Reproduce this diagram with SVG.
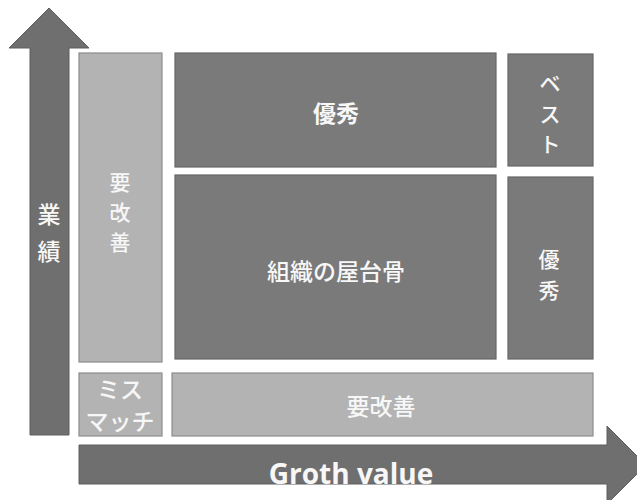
<svg xmlns="http://www.w3.org/2000/svg" width="637" height="500" viewBox="0 0 637 500">
<style>
.dark{fill:#7a7a7a;stroke:#666;stroke-width:1.2}
.light{fill:#b3b3b3;stroke:#8c8c8c;stroke-width:1.2}
.arrow{fill:#6f6f6f;stroke:#5e5e5e;stroke-width:1}
.t{font-family:"Noto Sans CJK JP","Noto Sans",sans-serif;fill:#f7f7f7;text-anchor:middle;dominant-baseline:central;font-size:23px;font-weight:500}
.v{font-size:21px}
.b{font-weight:bold}
</style>
<rect width="637" height="500" fill="#fff"/>
<g id="connectors">
<polygon class="arrow" points="49,8 89,48 69,48 69,435 30,435 30,48 9,48"/>
<polygon class="arrow" points="79,445 607,445 607,426 646,465 607,504 607,484 79,484"/>
</g>
<g id="axis-y"><text class="t" x="49" y="213" font-size="25">業</text><text class="t" x="49" y="250" font-size="25">績</text></g>
<g id="axis-x"><text x="351" y="484" style="font-family:'Open Sans',sans-serif;font-weight:bold;font-size:28px;fill:#f7f7f7;text-anchor:middle">Groth value</text></g>
<g id="left-improve"><rect class="light" x="79" y="53" width="83" height="309"/>
<text class="t v" x="120" y="181">要</text><text class="t v" x="120" y="211">改</text><text class="t v" x="120" y="241">善</text></g>
<g id="top-excellent"><rect class="dark" x="175" y="53" width="321" height="114"/>
<text class="t b" x="336" y="112" font-size="26">優秀</text></g>
<g id="best"><rect class="dark" x="508" y="54" width="85" height="112"/>
<text class="t v" x="550" y="82">ベ</text><text class="t v" x="550" y="113">ス</text><text class="t v" x="550" y="143">ト</text></g>
<g id="backbone"><rect class="dark" x="175" y="175" width="321" height="184"/>
<text class="t" x="336" y="270" font-size="26">組織の屋台骨</text></g>
<g id="right-excellent"><rect class="dark" x="508" y="177" width="85" height="182"/>
<text class="t v" x="549" y="258">優</text><text class="t v" x="549" y="289">秀</text></g>
<g id="mismatch"><rect class="light" x="79" y="373" width="83" height="63"/>
<text class="t" x="120" y="388" font-size="20">ミス</text><text class="t" x="120" y="420" font-size="20">マッチ</text></g>
<g id="bottom-improve"><rect class="light" x="172" y="373" width="421" height="63"/>
<text class="t" x="381" y="405" font-size="24">要改善</text></g>
</svg>
